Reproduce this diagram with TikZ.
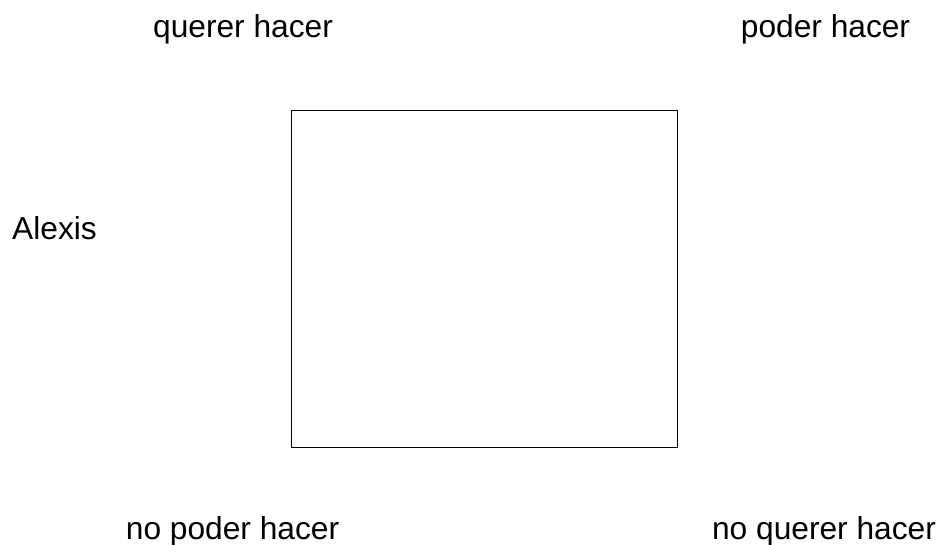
\documentclass[tikz,border=0pt]{standalone}
\usepackage{fontspec}
\setmainfont{Liberation Sans}
\begin{document}
\begin{tikzpicture}[x=1pt,y=-1pt,
  lbl/.style={inner sep=0pt,anchor=base,font=\fontsize{31.7}{38}\selectfont},
  sq/.style={draw=black,line width=1pt}]
\useasboundingbox (0,0) rectangle (939,545);
\node[sq,minimum width=386pt,minimum height=336pt,inner sep=0pt] (box) at (484,279) {};
\node[lbl] (qh) at (243,38) {querer hacer};
\node[lbl] (ph) at (825.5,38) {poder hacer};
\node[lbl,anchor=base west] (al) at (12,240) {Alexis};
\node[lbl] (nph) at (232.5,539) {no poder hacer};
\node[lbl] (nqh) at (824,539) {no querer hacer};
\end{tikzpicture}
\end{document}
